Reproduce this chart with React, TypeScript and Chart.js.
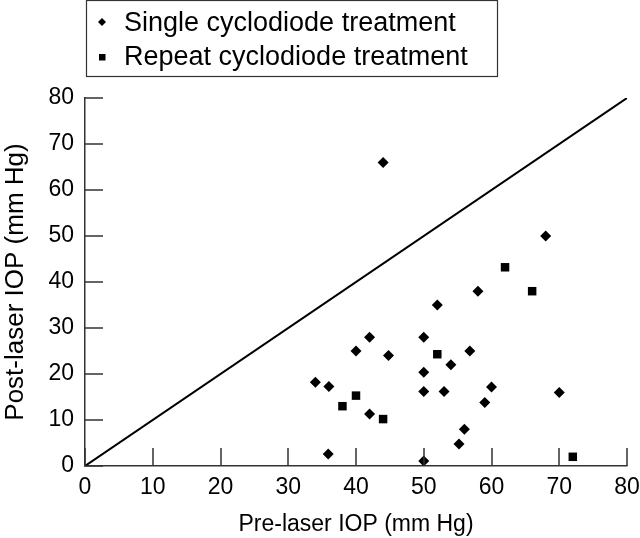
import React, { useEffect, useRef } from "react";
import { Chart, registerables } from "chart.js";

Chart.register(...registerables);

const singleX = [44, 68, 58, 52, 42, 50, 40, 56.8, 44.8, 54, 50, 34, 36, 60, 50, 53, 70, 59, 42, 56, 55.2, 35.9, 50];
const singleY = [66, 50, 38, 35, 28, 28, 25, 25, 24, 22, 20.4, 18.2, 17.3, 17.2, 16.2, 16.2, 16, 13.8, 11.3, 8, 4.8, 2.6, 1.1];
const repeatX = [62, 66, 52, 40, 38, 44, 72];
const repeatY = [43.2, 38, 24.3, 15.3, 13, 10.2, 2];
const lineX = [0, 80];
const lineY = [0, 80];
const xTicks = [0, 10, 20, 30, 40, 50, 60, 70, 80];
const yTicks = [0, 10, 20, 30, 40, 50, 60, 70, 80];
const labels = ["Single cyclodiode treatment", "Repeat cyclodiode treatment"];
const xTitle = "Pre-laser IOP (mm Hg)";
const yTitle = "Post-laser IOP (mm Hg)";

const FONT = "'Liberation Sans', Arial, Helvetica, sans-serif";
const AXIS = "#333";

const tickPlugin = {
  id: "innerTicks",
  afterDraw(chart: any) {
    const ctx = chart.ctx;
    const xs = chart.scales.x;
    const ys = chart.scales.y;
    const area = chart.chartArea;
    ctx.save();
    ctx.strokeStyle = AXIS;
    ctx.lineWidth = 1.5;
    ctx.beginPath();
    xTicks.forEach((v) => {
      const px = Math.round(xs.getPixelForValue(v));
      ctx.moveTo(px, area.bottom);
      ctx.lineTo(px, area.bottom - 18);
    });
    yTicks.forEach((v) => {
      const py = Math.round(ys.getPixelForValue(v));
      ctx.moveTo(area.left, py);
      ctx.lineTo(area.left + 18, py);
    });
    ctx.stroke();
    ctx.restore();
  },
};

const legendPlugin = {
  id: "boxLegend",
  afterDraw(chart: any) {
    const ctx = chart.ctx;
    ctx.save();
    ctx.strokeStyle = AXIS;
    ctx.lineWidth = 1.2;
    ctx.strokeRect(86.5, 0.5, 411, 76);
    ctx.fillStyle = "#000";
    const dx = 102, dy = 22, r = 4;
    ctx.beginPath();
    ctx.moveTo(dx, dy - r);
    ctx.lineTo(dx + r, dy);
    ctx.lineTo(dx, dy + r);
    ctx.lineTo(dx - r, dy);
    ctx.closePath();
    ctx.fill();
    ctx.fillRect(99, 54, 6.5, 6.5);
    ctx.font = `27px ${FONT}`;
    ctx.textBaseline = "alphabetic";
    ctx.textAlign = "left";
    ctx.fillText(labels[0], 124, 31);
    ctx.fillText(labels[1], 124, 65);
    ctx.restore();
  },
};

export default function App() {
  const ref = useRef<HTMLCanvasElement | null>(null);
  useEffect(() => {
    if (!ref.current) return;
    const chart = new Chart(ref.current, {
      type: "scatter",
      data: {
        datasets: [
          {
            label: labels[0],
            data: singleX.map((x, i) => ({ x, y: singleY[i] })),
            pointStyle: "rectRot",
            pointRadius: 5.5,
            backgroundColor: "#000",
            borderColor: "#000",
            borderWidth: 0,
          },
          {
            label: labels[1],
            data: repeatX.map((x, i) => ({ x, y: repeatY[i] })),
            pointStyle: "rect",
            pointRadius: 6,
            backgroundColor: "#000",
            borderColor: "#000",
            borderWidth: 0,
          },
          {
            type: "line",
            label: "identity",
            data: lineX.map((x, i) => ({ x, y: lineY[i] })),
            borderColor: "#000",
            borderWidth: 2,
            pointRadius: 0,
            showLine: true,
            fill: false,
          } as any,
        ],
      },
      options: {
        animation: false,
        responsive: false,
        layout: { padding: { top: 98, right: 13, left: 0, bottom: 0 } },
        plugins: { legend: { display: false }, tooltip: { enabled: false } },
        scales: {
          x: {
            type: "linear",
            min: 0,
            max: 80,
            afterFit: (s: any) => { s.height = 72; s.paddingLeft = 0; s.paddingRight = 0; },
            afterBuildTicks: (s: any) => { s.ticks = xTicks.map((v) => ({ value: v })); },
            grid: { display: true, drawOnChartArea: false, drawTicks: false, color: AXIS, lineWidth: 1.5 },
            border: { display: true, color: AXIS, width: 1.5 },
            ticks: { color: "#000", padding: 8, font: { family: FONT, size: 23 } },
            title: { display: true, text: xTitle, color: "#000", padding: { top: 6, bottom: 0 }, font: { family: FONT, size: 23 } },
          },
          y: {
            type: "linear",
            min: 0,
            max: 80,
            afterFit: (s: any) => { s.width = 85; s.paddingTop = 0; s.paddingBottom = 0; },
            afterBuildTicks: (s: any) => { s.ticks = yTicks.map((v) => ({ value: v })); },
            grid: { display: true, drawOnChartArea: false, drawTicks: false, color: AXIS, lineWidth: 1.5 },
            border: { display: true, color: AXIS, width: 1.5 },
            ticks: { color: "#000", padding: 11, font: { family: FONT, size: 23 } },
            title: { display: true, text: yTitle, color: "#000", padding: { top: 0, bottom: 3 }, font: { family: FONT, size: 26 } },
          },
        },
      },
      plugins: [tickPlugin, legendPlugin],
    });
    return () => chart.destroy();
  }, []);
  return (
    <div style={{ position: "fixed", left: 0, top: 0, width: 640, height: 538, background: "#fff" }}>
      <canvas ref={ref} width={640} height={538} style={{ width: 640, height: 538 }} />
    </div>
  );
}
